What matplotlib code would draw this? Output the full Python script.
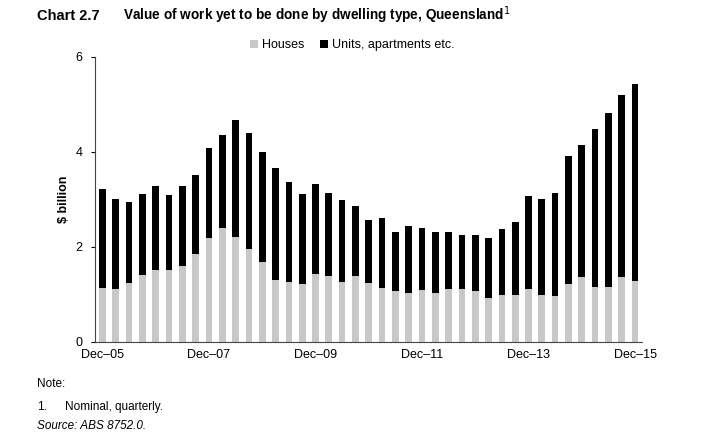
import numpy as np
import matplotlib.pyplot as plt

plt.rcParams['font.family'] = ['Liberation Sans', 'DejaVu Sans']

# quarterly, Dec-05 .. Dec-15 ($ billion)
houses = [1.14, 1.12, 1.24, 1.40, 1.51, 1.51, 1.59, 1.85, 2.19, 2.40,
          2.21, 1.96, 1.68, 1.31, 1.25, 1.22, 1.42, 1.38, 1.25, 1.38,
          1.23, 1.14, 1.07, 1.02, 1.09, 1.03, 1.12, 1.12, 1.07, 0.92,
          0.98, 0.99, 1.12, 0.99, 0.97, 1.22, 1.37, 1.16, 1.16, 1.37, 1.28]
totals = [3.21, 3.00, 2.95, 3.12, 3.29, 3.09, 3.28, 3.52, 4.09, 4.36,
          4.67, 4.39, 3.99, 3.66, 3.37, 3.12, 3.32, 3.14, 2.98, 2.86,
          2.56, 2.60, 2.31, 2.43, 2.40, 2.32, 2.32, 2.26, 2.25, 2.18,
          2.37, 2.53, 3.07, 3.01, 3.13, 3.92, 4.15, 4.48, 4.82, 5.19, 5.42]
units = [t - h for t, h in zip(totals, houses)]
tick_labels = ['Dec\u201305', 'Dec\u201307', 'Dec\u201309', 'Dec\u201311', 'Dec\u201313', 'Dec\u201315']

x = np.arange(len(houses))

fig = plt.figure(figsize=(7.02, 4.44), dpi=100)
ax = fig.add_axes([0.135, 0.23, 0.78, 0.642])

ax.bar(x, houses, width=0.5, color='#c8c8c8', label='Houses')
ax.bar(x, units, width=0.5, bottom=houses, color='black', label='Units, apartments etc.')

ax.set_ylim(0, 6)
ax.set_yticks([0, 2, 4, 6])
ax.set_xlim(-0.58, 40.55)
ax.set_xticks(x[::8])
ax.set_xticklabels(tick_labels)
ax.tick_params(axis='x', length=0, labelsize=9, pad=5)
ax.tick_params(axis='y', length=3, width=0.8, labelsize=9, pad=6)
ax.spines['top'].set_visible(False)
ax.spines['right'].set_visible(False)
ax.spines['left'].set_color('#444444')
ax.spines['bottom'].set_color('#444444')
ax.set_ylabel('$ billion', fontsize=9, fontweight='bold', labelpad=4)

ax.legend(loc='lower center', bbox_to_anchor=(0.47, 0.98), ncol=2, frameon=False,
          fontsize=9, handlelength=0.7, handleheight=0.7, handletextpad=0.3,
          columnspacing=1.2)

fig.text(0.052, 0.965, 'Chart 2.7', fontsize=10.5, fontweight='bold', va='center')
fig.text(0.175, 0.965, 'Value of work yet to be done by dwelling type, Queensland$^{1}$',
         fontsize=9.8, fontweight='bold', va='center')

fig.text(0.053, 0.135, 'Note:', fontsize=8.5, va='center')
fig.text(0.053, 0.083, '1.', fontsize=8.5, va='center')
fig.text(0.093, 0.083, 'Nominal, quarterly.', fontsize=8.5, va='center')
fig.text(0.053, 0.04, 'Source: ABS 8752.0.', fontsize=8.5, style='italic', va='center')

fig.savefig('out.png', dpi=100)
